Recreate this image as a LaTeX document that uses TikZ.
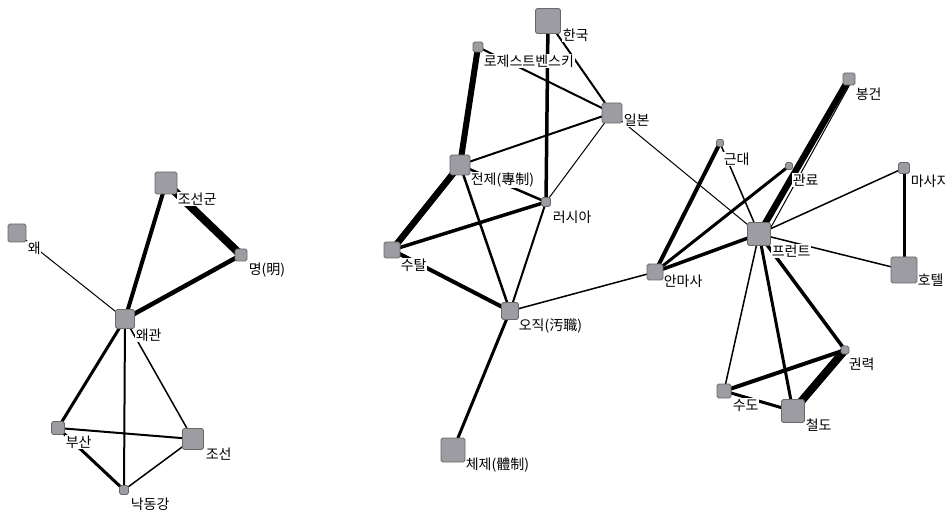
\documentclass[tikz,border=0pt]{standalone}
\usepackage{fontspec}
\newfontfamily\kr{Noto Sans CJK KR}
\pgfdeclarelayer{edges}
\pgfdeclarelayer{top}
\pgfsetlayers{edges,main,top}
\definecolor{sqfill}{RGB}{156,156,162}
\definecolor{sqdraw}{RGB}{105,105,108}
\tikzset{
  sq/.style={draw=sqdraw, fill=sqfill, line width=0.8pt, rounded corners=1.8pt, inner sep=0pt, minimum size=#1},
  lab/.style={fill=white, inner sep=0.6pt, anchor=west, font=\kr\fontsize{14}{16}\selectfont},
  ed/.style={draw=black, line width=#1},
}
\newcommand{\vx}[4]{\begin{pgfonlayer}{top}\node[sq=#4pt] (#1) at (#2,#3) {};\end{pgfonlayer}}
\begin{document}
\begin{tikzpicture}[x=1pt,y=-1pt]
\useasboundingbox (0,0) rectangle (946,513);
% ---- squares
\vx{wae}{17}{233}{18}
\vx{jsg}{166}{183}{22}
\vx{ming}{241}{255}{12}
\vx{wg}{125}{319}{19}
\vx{busan}{58}{428}{13}
\vx{josun}{193}{439}{21}
\vx{ndg}{124}{490}{9}
\vx{hanguk}{548}{21}{25}
\vx{roz}{478}{47}{10}
\vx{ilbon}{612}{113}{20}
\vx{jeonje}{460}{165}{20}
\vx{russia}{546}{202}{9}
\vx{sutal}{392}{250}{16}
\vx{ojik}{510}{311}{17}
\vx{anmasa}{655}{272}{16}
\vx{cheje}{453}{450}{24}
\vx{bong}{849}{79}{12}
\vx{geundae}{720}{143}{7}
\vx{gwanryo}{789}{166}{7}
\vx{massage}{904}{168}{11}
\vx{front}{759}{234}{23}
\vx{hotel}{904}{270}{26}
\vx{gwon}{845}{350}{8}
\vx{sudo}{724}{391}{14}
\vx{cheol}{793}{411}{23}
% ---- edges
\begin{pgfonlayer}{edges}
\draw[ed=1pt] (wae.center) -- (wg.center);
\draw[ed=4pt] (jsg.center) -- (wg.center);
\draw[ed=8pt] (jsg.center) -- (ming.center);
\draw[ed=4.5pt] (ming.center) -- (wg.center);
\draw[ed=3pt] (wg.center) -- (busan.center);
\draw[ed=2pt] (wg.center) -- (ndg.center);
\draw[ed=1.5pt] (wg.center) -- (josun.center);
\draw[ed=2pt] (busan.center) -- (josun.center);
\draw[ed=3pt] (busan.center) -- (ndg.center);
\draw[ed=1.5pt] (josun.center) -- (ndg.center);
\draw[ed=6pt] (roz.center) -- (jeonje.center);
\draw[ed=6.5pt] (jeonje.center) -- (sutal.center);
\draw[ed=3.5pt] (hanguk.center) -- (russia.center);
\draw[ed=2pt] (hanguk.center) -- (ilbon.center);
\draw[ed=2pt] (roz.center) -- (ilbon.center);
\draw[ed=2pt] (jeonje.center) -- (ilbon.center);
\draw[ed=1pt] (ilbon.center) -- (russia.center);
\draw[ed=1pt] (ilbon.center) -- (front.center);
\draw[ed=2.5pt] (jeonje.center) -- (russia.center);
\draw[ed=2.5pt] (jeonje.center) -- (ojik.center);
\draw[ed=3.5pt] (sutal.center) -- (russia.center);
\draw[ed=4pt] (sutal.center) -- (ojik.center);
\draw[ed=2pt] (russia.center) -- (ojik.center);
\draw[ed=1.5pt] (ojik.center) -- (anmasa.center);
\draw[ed=3pt] (ojik.center) -- (cheje.center);
\draw[ed=4pt] (anmasa.center) -- (geundae.center);
\draw[ed=3pt] (anmasa.center) -- (gwanryo.center);
\draw[ed=3.5pt] (anmasa.center) -- (front.center);
\draw[ed=6.5pt] (front.center) -- (bong.center);
\draw[ed=1pt] ([xshift=5pt,yshift=2pt]bong.center) -- ([xshift=6pt,yshift=-4pt]front.center);
\draw[ed=1.5pt] (geundae.center) -- (front.center);
\draw[ed=1.5pt] (front.center) -- (massage.center);
\draw[ed=1.5pt] (front.center) -- (hotel.center);
\draw[ed=3pt] (massage.center) -- (hotel.center);
\draw[ed=1.5pt] (front.center) -- (sudo.center);
\draw[ed=3pt] (front.center) -- (cheol.center);
\draw[ed=3.5pt] (front.center) -- (gwon.center);
\draw[ed=4pt] (gwon.center) -- (sudo.center);
\draw[ed=8pt] (gwon.center) -- (cheol.center);
\draw[ed=3pt] (sudo.center) -- (cheol.center);
\end{pgfonlayer}
% ---- labels
\node[lab] (l-wae) at (27,248) {왜};
\node[lab] (l-jsg) at (177,199) {조선군};
\node[lab] (l-ming) at (248,270) {명(明)};
\node[lab] (l-wg) at (135,335) {왜관};
\node[lab] (l-busan) at (65,442) {부산};
\node[lab] (l-josun) at (205,454) {조선};
\node[lab] (l-ndg) at (130,504) {낙동강};
\node[lab] (l-hanguk) at (562,35) {한국};
\node[lab] (l-roz) at (483,61) {로제스트벤스키};
\node[lab] (l-ilbon) at (623,120) {일본};
\node[lab] (l-jeonje) at (470,180) {전제(專制)};
\node[lab] (l-russia) at (552,217) {러시아};
\node[lab] (l-sutal) at (400,265) {수탈};
\node[lab] (l-ojik) at (518,326) {오직(汚職)};
\node[lab] (l-anmasa) at (663,281) {안마사};
\node[lab] (l-cheje) at (465,465) {체제(體制)};
\node[lab] (l-bong) at (855,94) {봉건};
\node[lab] (l-geundae) at (723,159) {근대};
\node[lab] (l-gwanryo) at (792,180) {관료};
\node[lab] (l-massage) at (910,181) {마사지};
\node[lab] (l-front) at (771,251) {프런트};
\node[lab] (l-hotel) at (917,280) {호텔};
\node[lab] (l-gwon) at (848,364) {권력};
\node[lab] (l-sudo) at (732,405) {수도};
\node[lab] (l-cheol) at (805,425) {철도};
\end{tikzpicture}
\end{document}
